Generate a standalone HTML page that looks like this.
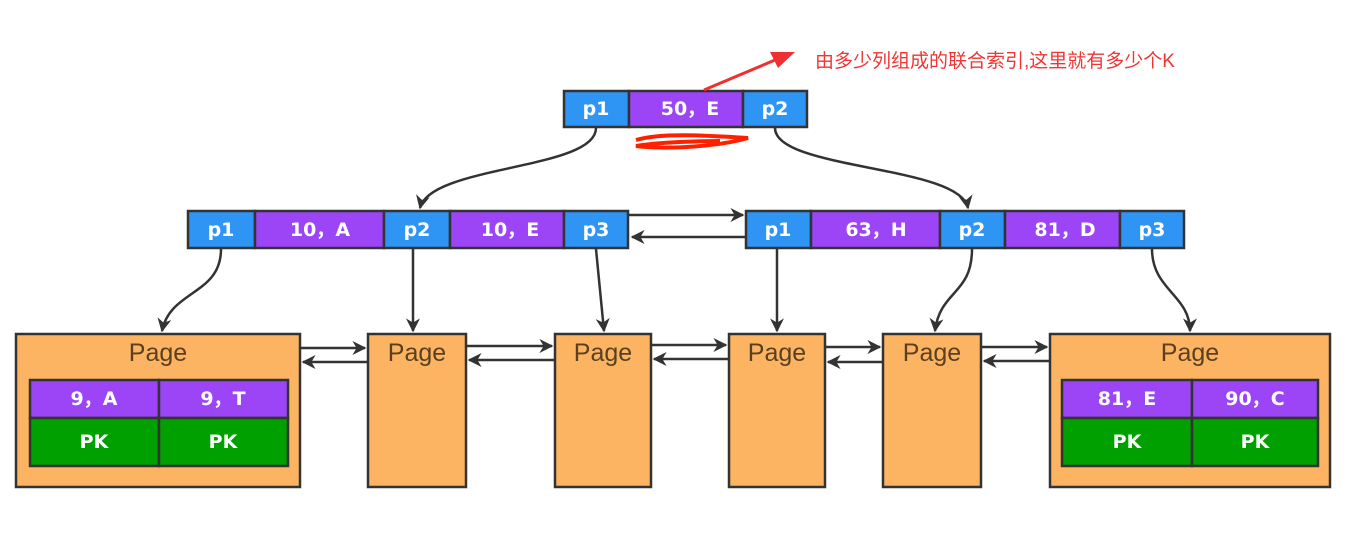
<!DOCTYPE html>
<html><head><meta charset="utf-8"><style>
html,body{margin:0;padding:0;background:#fff;width:1353px;height:546px;overflow:hidden}
svg{display:block}
.w{font-family:"DejaVu Sans","Liberation Sans",sans-serif;font-weight:bold;fill:#fff;font-size:19px;text-anchor:middle;dominant-baseline:central}
.pg{font-family:"Liberation Sans","DejaVu Sans",sans-serif;fill:#5a4020;font-size:25px;text-anchor:middle}
</style></head><body>
<svg width="1353" height="546" viewBox="0 0 1353 546" xmlns="http://www.w3.org/2000/svg">
<defs>
<marker id="a" viewBox="0 0 10 10" refX="9" refY="5" markerWidth="7" markerHeight="7" orient="auto" markerUnits="userSpaceOnUse"><path d="M0,0 L10,5 L0,10 z" fill="#333"/></marker>
<marker id="b" viewBox="0 0 10 10" refX="9" refY="5" markerWidth="14" markerHeight="14" orient="auto" markerUnits="userSpaceOnUse"><path d="M0,0 L10,5 L0,10 L3,5 z" fill="#333"/></marker>
</defs>
<g stroke="#333" stroke-width="2.5">
<!-- root -->
<rect x="564" y="91" width="65" height="36" fill="#2f95f5"/>
<rect x="629" y="91" width="114" height="36" fill="#9b45f7"/>
<rect x="743" y="91" width="64" height="36" fill="#2f95f5"/>
<!-- level 2 left -->
<rect x="188" y="211" width="67" height="37" fill="#2f95f5"/>
<rect x="255" y="211" width="129" height="37" fill="#9b45f7"/>
<rect x="384" y="211" width="66" height="37" fill="#2f95f5"/>
<rect x="450" y="211" width="114" height="37" fill="#9b45f7"/>
<rect x="564" y="211" width="64" height="37" fill="#2f95f5"/>
<!-- level 2 right -->
<rect x="746" y="211" width="65" height="37" fill="#2f95f5"/>
<rect x="811" y="211" width="129" height="37" fill="#9b45f7"/>
<rect x="940" y="211" width="65" height="37" fill="#2f95f5"/>
<rect x="1005" y="211" width="115" height="37" fill="#9b45f7"/>
<rect x="1120" y="211" width="64" height="37" fill="#2f95f5"/>
<!-- pages -->
<rect x="16" y="334" width="284" height="153" fill="#fdb462"/>
<rect x="368" y="334" width="98" height="153" fill="#fdb462"/>
<rect x="555" y="334" width="96" height="153" fill="#fdb462"/>
<rect x="729" y="334" width="96" height="153" fill="#fdb462"/>
<rect x="883" y="334" width="98" height="153" fill="#fdb462"/>
<rect x="1050" y="334" width="280" height="153" fill="#fdb462"/>
<!-- inner tables -->
<rect x="30" y="380" width="129" height="38" fill="#9b45f7"/>
<rect x="159" y="380" width="129" height="38" fill="#9b45f7"/>
<rect x="30" y="418" width="129" height="48" fill="#00a000"/>
<rect x="159" y="418" width="129" height="48" fill="#00a000"/>
<rect x="1062" y="380" width="130" height="38" fill="#9b45f7"/>
<rect x="1192" y="380" width="126" height="38" fill="#9b45f7"/>
<rect x="1062" y="418" width="130" height="48" fill="#00a000"/>
<rect x="1192" y="418" width="126" height="48" fill="#00a000"/>
</g>
<g class="w">
<text x="596" y="109">p1</text><text x="690" y="109">50，E</text><text x="775" y="109">p2</text>
<text x="221" y="230">p1</text><text x="320" y="230">10，A</text><text x="417" y="230">p2</text><text x="510" y="230">10，E</text><text x="596" y="230">p3</text>
<text x="778" y="230">p1</text><text x="876" y="230">63，H</text><text x="972" y="230">p2</text><text x="1065" y="230">81，D</text><text x="1152" y="230">p3</text>
<text x="94" y="399">9，A</text><text x="223" y="399">9，T</text><text x="94" y="442">PK</text><text x="223" y="442">PK</text>
<text x="1127" y="399">81，E</text><text x="1255" y="399">90，C</text><text x="1127" y="442">PK</text><text x="1255" y="442">PK</text>
</g>
<g class="pg">
<text x="158" y="361">Page</text><text x="417" y="361">Page</text><text x="603" y="361">Page</text><text x="777" y="361">Page</text><text x="932" y="361">Page</text><text x="1190" y="361">Page</text>
</g>
<g stroke="#333" stroke-width="2.5" fill="none">
<!-- root to level2 -->
<path d="M596,128 C596,170 430,165 420,208" marker-end="url(#b)"/>
<path d="M775,128 C775,170 960,165 968,208" marker-end="url(#b)"/>
<!-- level2 links -->
<path d="M629,215 L743,215" marker-end="url(#b)"/>
<path d="M746,237 L632,237" marker-end="url(#b)"/>
<!-- level2 to pages -->
<path d="M221,249 C221,295 170,290 162,331" marker-end="url(#b)"/>
<path d="M413,249 L413,331" marker-end="url(#b)"/>
<path d="M596,249 L604,331" marker-end="url(#b)"/>
<path d="M777,249 L777,331" marker-end="url(#b)"/>
<path d="M972,249 C972,295 940,290 935,331" marker-end="url(#b)"/>
<path d="M1152,249 C1152,290 1190,295 1190,331" marker-end="url(#b)"/>
<!-- page links -->
<path d="M301,348 L365,348" marker-end="url(#b)"/>
<path d="M367,362 L303,362" marker-end="url(#b)"/>
<path d="M467,346 L552,346" marker-end="url(#b)"/>
<path d="M554,360 L469,360" marker-end="url(#b)"/>
<path d="M652,345 L726,345" marker-end="url(#b)"/>
<path d="M728,359 L654,359" marker-end="url(#b)"/>
<path d="M826,347 L880,347" marker-end="url(#b)"/>
<path d="M882,362 L828,362" marker-end="url(#b)"/>
<path d="M982,347 L1047,347" marker-end="url(#b)"/>
<path d="M1049,361 L984,361" marker-end="url(#b)"/>
</g>
<!-- red annotation arrow -->
<path d="M704,90 L775,60" stroke="#f03030" stroke-width="3" fill="none"/>
<path d="M795,52 L770,52 L778,68 z" fill="#f03030"/>
<path d="M636,140 C660,133 700,135 748,138 C720,146 670,150 636,146 C660,142 700,141 720,141" stroke="#ff2000" stroke-width="4" fill="none"/>
<text x="815" y="67" font-family="'Liberation Sans','Noto Sans CJK SC',sans-serif" font-size="19" fill="#f03535">由多少列组成的联合索引,这里就有多少个K</text>
</svg>
</body></html>
